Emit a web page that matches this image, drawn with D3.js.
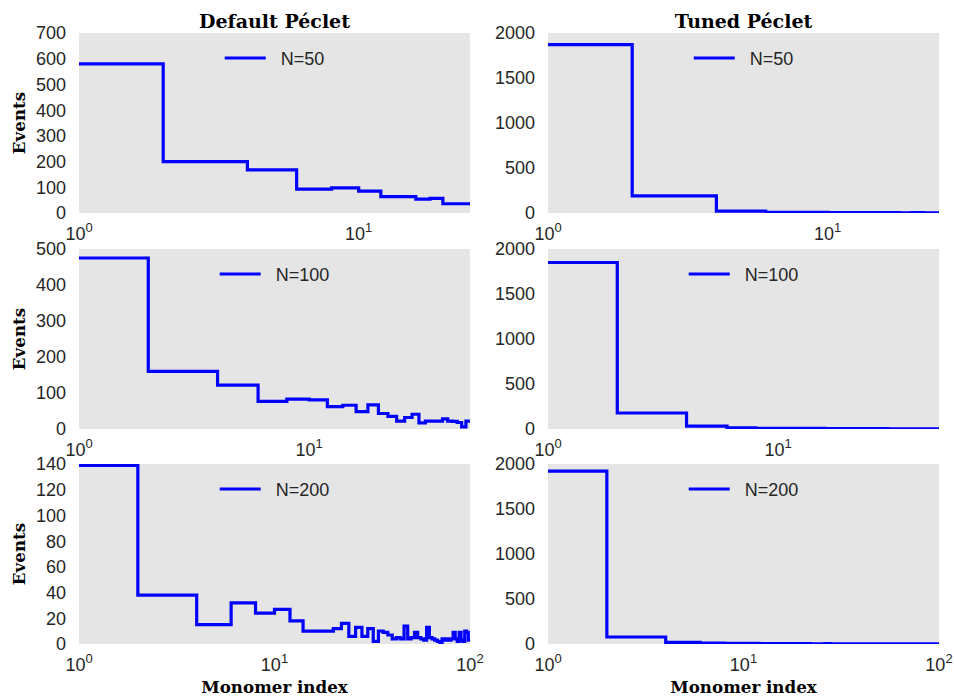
<!DOCTYPE html>
<html lang="en">
<head>
    <meta charset="UTF-8">
    <title>Peclet events</title>
    <script src="https://d3js.org/d3.v7.min.js"></script>
    <style>
        body {margin:0;background:#fff}
        .tick-label {font-family:"Liberation Sans", Arial, sans-serif;font-size:18px;fill:#262626}
        .legend-label {font-family:"Liberation Sans", Arial, sans-serif;font-size:18px;fill:#262626}
        .title {font-family:"DejaVu Serif", serif;font-weight:bold;font-size:19px;fill:#000}
        .axis-label {font-family:"DejaVu Serif", serif;font-weight:bold;font-size:16.7px;fill:#000}
    </style>
</head>
<body>
    <div id="chart"></div>
    <script>
        // monomer index where each step starts
        var x50 = [1, 2, 4, 6, 8, 10, 12, 14, 16, 18, 20, 22, 24];
        var x100 = [1, 2, 4, 6, 8, 10, 12, 14, 16, 18, 20, 22, 24, 26, 28, 30, 32, 34, 36, 38, 40, 42, 44, 46, 48];
        var x200 = [1, 2, 4, 6, 8, 10, 12, 14, 16, 18, 20, 22, 24, 26, 28, 30, 32, 34, 36, 38, 40, 42, 44, 46, 48,
                    50, 52, 54, 56, 58, 60, 62, 64, 66, 68, 70, 72, 74, 76, 78, 80, 82, 84, 86, 88, 90, 92, 94, 96, 98];

        var default50 = [580, 200, 168, 93, 98, 85, 64, 64, 54, 57, 36, 36, 36];
        var tuned50 = [1870, 190, 20, 8, 6, 5, 4, 5, 4, 3, 4, 3, 3];

        var default100 = [475, 160, 122, 77, 83, 81, 62, 66, 48, 67, 43, 35, 22, 32, 41, 17, 22, 22, 22, 28, 22, 21, 18, 6, 22];
        var tuned100 = [1850, 178, 33, 12, 8, 8, 6, 6, 5, 5, 5, 4, 4, 4, 4, 3, 3, 3, 3, 3, 3, 2, 2, 3, 2];

        var default200 = [139, 38, 15, 32, 24, 27, 18, 10, 10, 10, 12, 16, 6, 13, 6, 12, 2, 10, 9, 7, 4, 5, 4, 14, 4,
                          5, 9, 5, 4, 3, 13, 5, 4, 3, 2, 0, 4, 3, 4, 3, 4, 9, 4, 2, 9, 3, 2, 10, 9, 3];
        var tuned200 = [1920, 78, 19, 11, 8, 6, 5, 5, 4, 4, 4, 3, 3, 4, 3, 3, 3, 2, 3, 3, 2, 2, 3, 2, 2,
                        2, 3, 2, 2, 2, 2, 2, 1, 2, 2, 2, 1, 2, 2, 1, 2, 1, 2, 1, 1, 2, 1, 1, 2, 1];

        var chainLengths = ["N=50", "N=100", "N=200"];
        var xMax = [25, 50, 100];
        var columnTitles = ["Default Péclet", "Tuned Péclet"];

        var yMax = [[700, 2000], [500, 2000], [140, 2000]];
        var yStep = [[100, 500], [100, 500], [20, 500]];
        var xTicks = [[1, 10], [1, 10], [1, 10, 100]];

        var xs = [x50, x100, x200];
        var ys = [[default50, tuned50], [default100, tuned100], [default200, tuned200]];

        var w = 954, h = 697;
        var colLeft = [79, 548];
        var plotW = 391;
        var rowTop = [33, 249, 464];
        var plotH = 180;

        var svg = d3.select("#chart")
            .append("svg")
            .attr("width", w)
            .attr("height", h);

        for (var r = 0; r < 3; r++) {
            for (var c = 0; c < 2; c++) {
                drawPanel(r, c);
            }
        }

        function drawPanel(r, c) {
            var left = colLeft[c], top = rowTop[r];
            var g = svg.append("g").attr("transform", `translate(${left},${top})`);

            var xScale = d3.scaleLog().domain([1, xMax[r]]).range([0, plotW]);
            var yScale = d3.scaleLinear().domain([0, yMax[r][c]]).range([plotH, 0]);

            g.append("rect")
                .attr("width", plotW)
                .attr("height", plotH)
                .attr("fill", "#e5e5e5");

            var clipId = "clip" + r + c;
            g.append("clipPath").attr("id", clipId)
                .append("rect").attr("width", plotW).attr("height", plotH);

            var pts = xs[r].map((x, i) => [x, ys[r][c][i]]);
            pts.push([xMax[r], ys[r][c][ys[r][c].length - 1]]);

            var line = d3.line()
                .x(d => xScale(d[0]))
                .y(d => yScale(d[1]))
                .curve(d3.curveStepAfter);

            g.append("path")
                .datum(pts)
                .attr("clip-path", `url(#${clipId})`)
                .attr("d", line)
                .attr("fill", "none")
                .attr("stroke", "#0000ff")
                .attr("stroke-width", 3.2)
                .attr("stroke-linejoin", "miter");

            // y tick labels
            var yt = d3.range(0, yMax[r][c] + 1, yStep[r][c]);
            g.selectAll(".ytick")
                .data(yt)
                .enter()
                .append("text")
                .attr("class", "tick-label")
                .attr("x", -13)
                .attr("y", d => yScale(d))
                .attr("dy", "0.36em")
                .attr("text-anchor", "end")
                .text(d => d);

            // x tick labels as powers of ten
            var xt = g.selectAll(".xtick")
                .data(xTicks[r])
                .enter()
                .append("text")
                .attr("class", "tick-label")
                .attr("x", d => xScale(d))
                .attr("y", plotH + 27)
                .attr("text-anchor", "middle");
            xt.append("tspan").text("10");
            xt.append("tspan")
                .attr("dy", -8)
                .style("font-size", "13px")
                .text(d => Math.round(Math.log10(d)));

            // legend, upper center
            var leg = g.append("g");
            var legText = leg.append("text")
                .attr("class", "legend-label")
                .attr("y", 32)
                .text(chainLengths[r]);
            var tw = legText.node().getComputedTextLength();
            var total = 41 + 15 + tw;
            var x0 = plotW / 2 - total / 2;
            legText.attr("x", x0 + 56);
            leg.append("line")
                .attr("x1", x0)
                .attr("x2", x0 + 41)
                .attr("y1", 25)
                .attr("y2", 25)
                .attr("stroke", "#0000ff")
                .attr("stroke-width", 3.2);

            if (r === 0) {
                g.append("text")
                    .attr("class", "title")
                    .attr("x", plotW / 2)
                    .attr("y", -5)
                    .attr("text-anchor", "middle")
                    .text(columnTitles[c]);
            }
            if (c === 0) {
                g.append("text")
                    .attr("class", "axis-label")
                    .attr("transform", `translate(${25 - left},${plotH / 2}) rotate(-90)`)
                    .attr("text-anchor", "middle")
                    .text("Events");
            }
            if (r === 2) {
                g.append("text")
                    .attr("class", "axis-label")
                    .attr("x", plotW / 2)
                    .attr("y", 693 - top)
                    .attr("text-anchor", "middle")
                    .text("Monomer index");
            }
        }
    </script>
</body>
</html>
